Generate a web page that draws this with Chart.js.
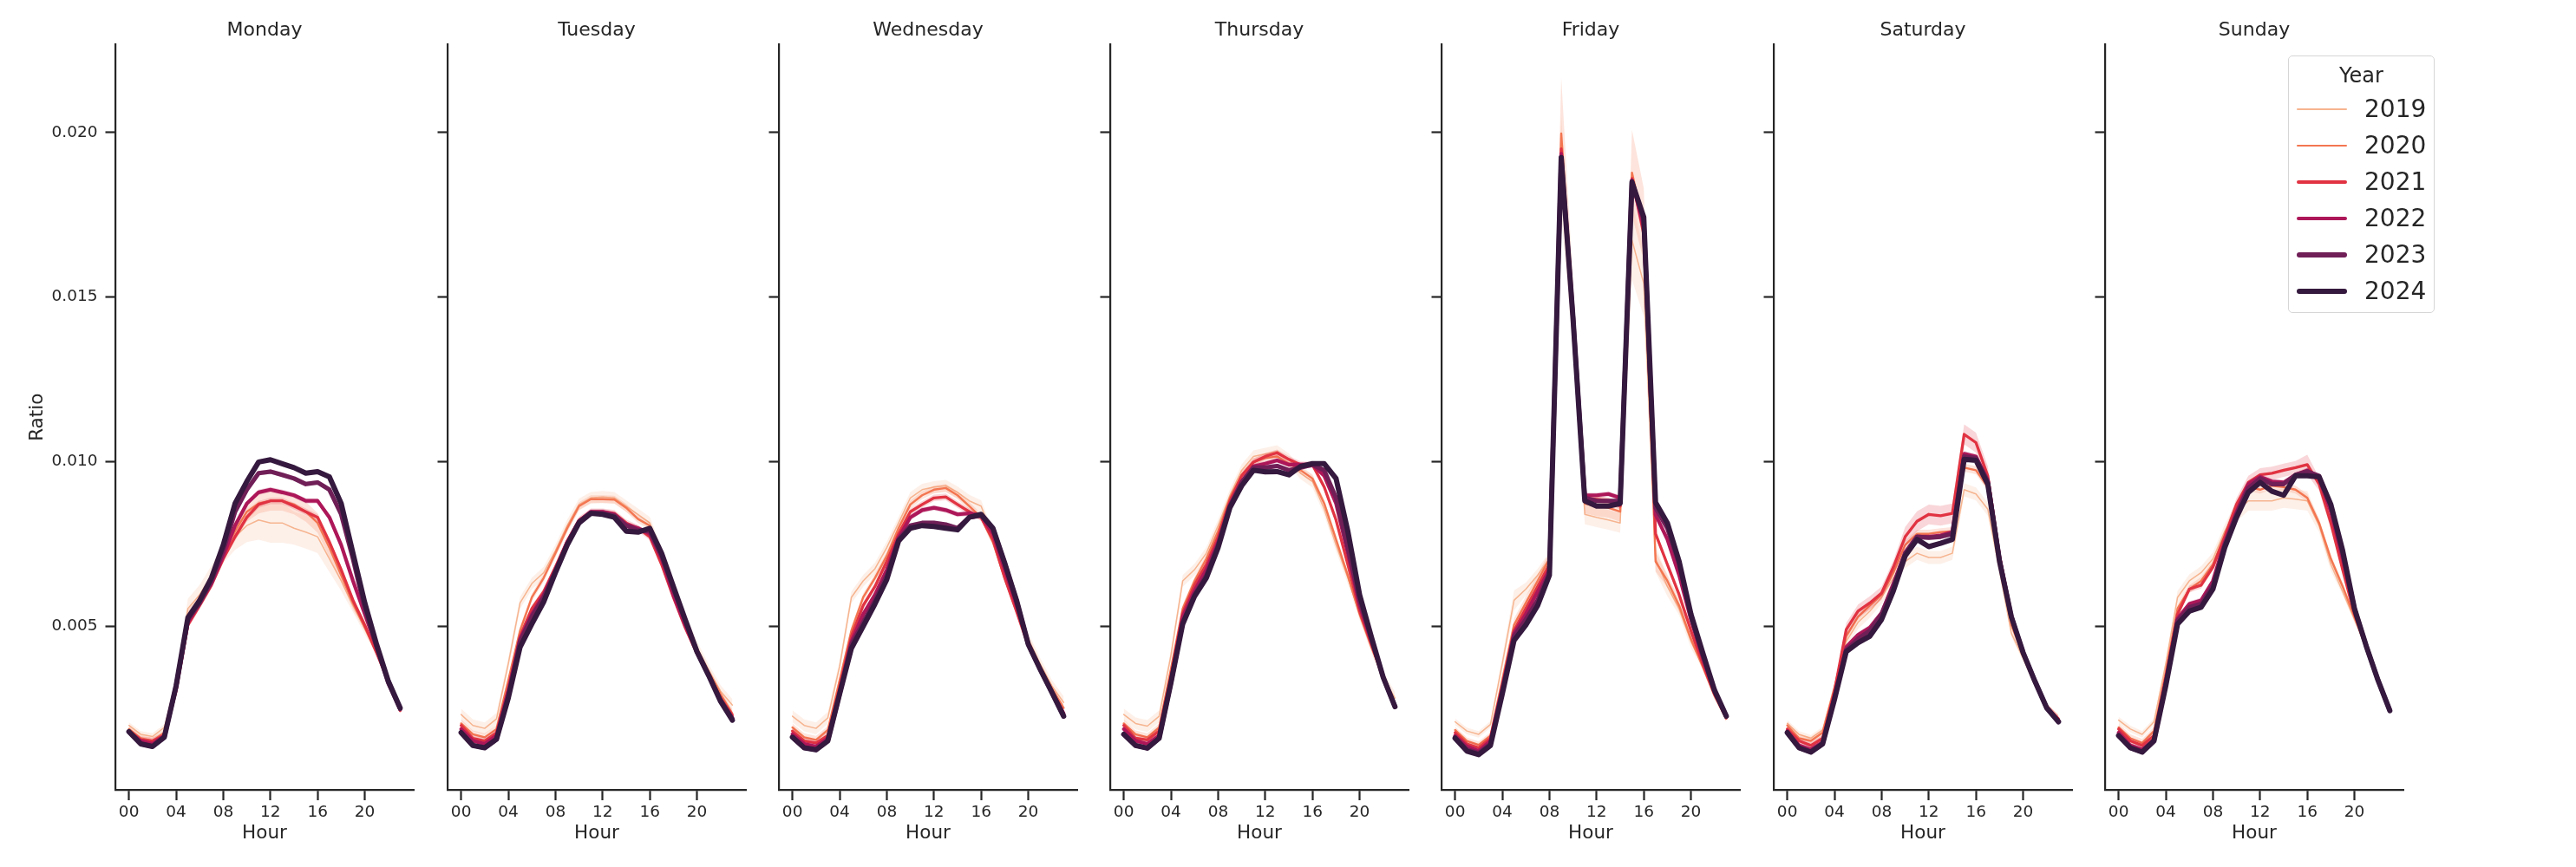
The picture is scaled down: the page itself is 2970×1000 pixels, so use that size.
<!DOCTYPE html>
<html>
<head>
<meta charset="utf-8">
<script src="https://cdn.jsdelivr.net/npm/chart.js@4.4.1/dist/chart.umd.min.js"></script>
<style>
  html, body { margin: 0; padding: 0; background: #fff; }
  body { width: 2970px; height: 1000px; position: relative; overflow: hidden; font-family: "DejaVu Sans", sans-serif; color: #262626; }
  canvas.panel { position: absolute; top: 0; }
  #legend { position: absolute; left: 2638px; top: 64px; width: 169px; height: 297px; box-sizing: border-box;
            border: 1.5px solid #d6d6d6; border-radius: 5px; background: rgba(255,255,255,0.85); z-index: 5; }
  #legend .ttl { position: absolute; left: 0; right: 0; top: 22px; transform: translateY(-50%); text-align: center; font-size: 24px; line-height: 1; }
  #legend .sw { position: absolute; left: 9px; width: 58px; border-radius: 4px; }
  #legend .lbl { position: absolute; left: 87px; font-size: 28px; line-height: 1; transform: translateY(-50%); }
</style>
</head>
<body>
<div id="legend"></div>
<script>
const hours = [0,1,2,3,4,5,6,7,8,9,10,11,12,13,14,15,16,17,18,19,20,21,22,23];
const years = ['2019','2020','2021','2022','2023','2024'];
const days = ['Monday','Tuesday','Wednesday','Thursday','Friday','Saturday','Sunday'];
const yearColors = ['#f6b48f','#f37651','#e13342','#ad1759','#701f57','#35193e'];
const lineWidths = [1.5, 2.4, 3.3, 4.2, 5.1, 6.0];
const xTicks = [0, 4, 8, 12, 16, 20];
const yTicks = [0.005, 0.010, 0.015, 0.020];
const ciDefault = [0.00018, 0.00012, 0.0001, 0.00008, 0.00007, 0.00006];

// Monday
const monday2019 = [0.00199,0.00172,0.00165,0.00193,0.00328,0.00554,0.00596,0.00655,0.00722,0.00772,0.00806,0.00823,0.00814,0.00814,0.00798,0.00786,0.00772,0.00705,0.00638,0.00563,0.00496,0.00420,0.00336,0.00247];
const monday2020 = [0.00188,0.00160,0.00152,0.00177,0.00319,0.00529,0.00579,0.00638,0.00722,0.00789,0.00848,0.00873,0.00881,0.00881,0.00870,0.00848,0.00814,0.00739,0.00655,0.00571,0.00496,0.00420,0.00333,0.00247];
const monday2021 = [0.00182,0.00155,0.00152,0.00168,0.00303,0.00504,0.00563,0.00625,0.00705,0.00772,0.00831,0.00870,0.00881,0.00881,0.00865,0.00848,0.00831,0.00756,0.00672,0.00579,0.00504,0.00420,0.00333,0.00244];
const monday2022 = [0.00180,0.00152,0.00143,0.00168,0.00311,0.00512,0.00571,0.00630,0.00714,0.00806,0.00873,0.00907,0.00915,0.00907,0.00898,0.00881,0.00881,0.00831,0.00747,0.00638,0.00537,0.00437,0.00336,0.00252];
const monday2023 = [0.00180,0.00143,0.00135,0.00163,0.00319,0.00521,0.00571,0.00638,0.00730,0.00848,0.00915,0.00965,0.00970,0.00960,0.00949,0.00932,0.00937,0.00915,0.00840,0.00705,0.00554,0.00437,0.00328,0.00249];
const monday2024 = [0.00180,0.00143,0.00135,0.00163,0.00319,0.00526,0.00579,0.00647,0.00747,0.00873,0.00940,0.00999,0.01006,0.00994,0.00982,0.00965,0.00970,0.00954,0.00873,0.00722,0.00571,0.00445,0.00333,0.00252];

// Tuesday
const tuesday2019 = [0.00232,0.00199,0.00190,0.00219,0.00386,0.00571,0.00630,0.00663,0.00730,0.00806,0.00870,0.00890,0.00893,0.00890,0.00865,0.00840,0.00814,0.00722,0.00613,0.00521,0.00437,0.00366,0.00303,0.00261];
const tuesday2020 = [0.00205,0.00172,0.00163,0.00188,0.00336,0.00487,0.00588,0.00647,0.00722,0.00798,0.00865,0.00886,0.00886,0.00885,0.00860,0.00826,0.00806,0.00714,0.00608,0.00512,0.00428,0.00361,0.00294,0.00235];
const tuesday2021 = [0.00199,0.00160,0.00152,0.00177,0.00311,0.00470,0.00554,0.00605,0.00680,0.00759,0.00823,0.00848,0.00848,0.00843,0.00814,0.00798,0.00772,0.00688,0.00588,0.00496,0.00417,0.00350,0.00282,0.00230];
const tuesday2022 = [0.00188,0.00152,0.00143,0.00168,0.00303,0.00462,0.00537,0.00596,0.00672,0.00756,0.00819,0.00848,0.00848,0.00840,0.00809,0.00798,0.00781,0.00705,0.00596,0.00504,0.00420,0.00353,0.00277,0.00222];
const tuesday2023 = [0.00177,0.00138,0.00131,0.00157,0.00286,0.00454,0.00529,0.00588,0.00668,0.00751,0.00818,0.00845,0.00843,0.00836,0.00806,0.00792,0.00789,0.00714,0.00613,0.00517,0.00423,0.00350,0.00276,0.00219];
const tuesday2024 = [0.00177,0.00138,0.00131,0.00157,0.00282,0.00437,0.00507,0.00574,0.00663,0.00747,0.00814,0.00843,0.00840,0.00831,0.00789,0.00786,0.00798,0.00722,0.00621,0.00521,0.00423,0.00350,0.00272,0.00215];

// Wednesday
const wednesday2019 = [0.00227,0.00199,0.00190,0.00222,0.00378,0.00588,0.00638,0.00675,0.00739,0.00814,0.00890,0.00915,0.00923,0.00927,0.00907,0.00881,0.00865,0.00772,0.00655,0.00554,0.00462,0.00386,0.00319,0.00269];
const wednesday2020 = [0.00193,0.00163,0.00155,0.00185,0.00336,0.00487,0.00588,0.00647,0.00714,0.00798,0.00870,0.00898,0.00915,0.00920,0.00898,0.00865,0.00831,0.00756,0.00647,0.00546,0.00454,0.00378,0.00311,0.00252];
const wednesday2021 = [0.00182,0.00152,0.00146,0.00168,0.00316,0.00470,0.00563,0.00621,0.00697,0.00781,0.00848,0.00870,0.00890,0.00893,0.00870,0.00848,0.00831,0.00764,0.00647,0.00546,0.00440,0.00366,0.00299,0.00235];
const wednesday2022 = [0.00172,0.00143,0.00135,0.00160,0.00303,0.00454,0.00537,0.00596,0.00672,0.00769,0.00831,0.00853,0.00860,0.00853,0.00840,0.00843,0.00836,0.00781,0.00672,0.00563,0.00445,0.00370,0.00303,0.00235];
const wednesday2023 = [0.00163,0.00131,0.00125,0.00152,0.00294,0.00445,0.00512,0.00579,0.00655,0.00764,0.00806,0.00814,0.00814,0.00809,0.00798,0.00831,0.00836,0.00798,0.00692,0.00579,0.00445,0.00370,0.00299,0.00227];
const wednesday2024 = [0.00163,0.00131,0.00125,0.00152,0.00294,0.00433,0.00500,0.00568,0.00642,0.00759,0.00798,0.00806,0.00803,0.00798,0.00793,0.00831,0.00840,0.00798,0.00692,0.00579,0.00445,0.00370,0.00299,0.00227];

// Thursday
const thursday2019 = [0.00232,0.00205,0.00197,0.00227,0.00412,0.00638,0.00672,0.00722,0.00806,0.00898,0.00974,0.01016,0.01024,0.01032,0.01007,0.00965,0.00940,0.00856,0.00747,0.00647,0.00537,0.00437,0.00345,0.00282];
const thursday2020 = [0.00205,0.00172,0.00163,0.00193,0.00370,0.00554,0.00638,0.00705,0.00789,0.00890,0.00960,0.00999,0.01011,0.01016,0.00994,0.00974,0.00949,0.00873,0.00764,0.00655,0.00537,0.00437,0.00345,0.00261];
const thursday2021 = [0.00199,0.00160,0.00155,0.00182,0.00350,0.00541,0.00625,0.00688,0.00772,0.00881,0.00957,0.00999,0.01016,0.01027,0.01007,0.00991,0.00991,0.00923,0.00823,0.00688,0.00546,0.00445,0.00345,0.00256];
const thursday2022 = [0.00188,0.00152,0.00143,0.00168,0.00336,0.00529,0.00608,0.00672,0.00756,0.00870,0.00940,0.00986,0.00994,0.01004,0.00991,0.00991,0.00991,0.00957,0.00873,0.00722,0.00563,0.00454,0.00345,0.00256];
const thursday2023 = [0.00172,0.00138,0.00130,0.00160,0.00328,0.00512,0.00596,0.00655,0.00747,0.00865,0.00937,0.00982,0.00982,0.00987,0.00974,0.00982,0.00991,0.00974,0.00890,0.00739,0.00579,0.00462,0.00345,0.00256];
const thursday2024 = [0.00172,0.00138,0.00130,0.00160,0.00328,0.00507,0.00591,0.00647,0.00739,0.00860,0.00927,0.00974,0.00969,0.00970,0.00960,0.00986,0.00994,0.00994,0.00949,0.00789,0.00596,0.00467,0.00345,0.00256];

// Friday
const friday2019 = [0.00210,0.00182,0.00172,0.00202,0.00386,0.00579,0.00613,0.00655,0.00705,0.01900,0.01420,0.00840,0.00831,0.00823,0.00814,0.01673,0.01541,0.00705,0.00621,0.00554,0.00454,0.00378,0.00289,0.00220];
const friday2020 = [0.00185,0.00152,0.00140,0.00168,0.00336,0.00504,0.00571,0.00638,0.00705,0.01997,0.01470,0.00873,0.00865,0.00860,0.00848,0.01878,0.01720,0.00697,0.00638,0.00563,0.00462,0.00378,0.00289,0.00220];
const friday2021 = [0.00177,0.00143,0.00131,0.00160,0.00319,0.00487,0.00554,0.00621,0.00688,0.01950,0.01455,0.00890,0.00886,0.00881,0.00865,0.01860,0.01690,0.00781,0.00688,0.00596,0.00487,0.00386,0.00294,0.00222];
const friday2022 = [0.00168,0.00135,0.00121,0.00152,0.00311,0.00479,0.00537,0.00605,0.00672,0.01935,0.01445,0.00898,0.00898,0.00902,0.00890,0.01855,0.01712,0.00839,0.00764,0.00655,0.00521,0.00403,0.00299,0.00225];
const friday2023 = [0.00163,0.00126,0.00115,0.00143,0.00303,0.00470,0.00521,0.00579,0.00663,0.01925,0.01440,0.00890,0.00881,0.00881,0.00881,0.01852,0.01732,0.00860,0.00798,0.00688,0.00529,0.00412,0.00303,0.00227];
const friday2024 = [0.00160,0.00121,0.00110,0.00138,0.00294,0.00457,0.00504,0.00563,0.00655,0.01924,0.01435,0.00881,0.00865,0.00865,0.00873,0.01849,0.01743,0.00876,0.00814,0.00697,0.00537,0.00420,0.00306,0.00227];

// Saturday
const saturday2019 = [0.00205,0.00172,0.00160,0.00185,0.00319,0.00454,0.00512,0.00546,0.00588,0.00647,0.00697,0.00722,0.00709,0.00709,0.00722,0.00915,0.00902,0.00856,0.00672,0.00479,0.00403,0.00324,0.00256,0.00222];
const saturday2020 = [0.00199,0.00160,0.00152,0.00177,0.00311,0.00470,0.00529,0.00563,0.00596,0.00663,0.00747,0.00781,0.00781,0.00786,0.00789,0.00982,0.00974,0.00923,0.00697,0.00504,0.00412,0.00328,0.00252,0.00219];
const saturday2021 = [0.00188,0.00152,0.00138,0.00160,0.00303,0.00490,0.00546,0.00571,0.00601,0.00680,0.00772,0.00819,0.00840,0.00836,0.00843,0.01083,0.01058,0.00957,0.00714,0.00537,0.00420,0.00333,0.00256,0.00219];
const saturday2022 = [0.00182,0.00138,0.00126,0.00148,0.00289,0.00437,0.00474,0.00496,0.00541,0.00630,0.00725,0.00772,0.00772,0.00776,0.00786,0.01024,0.01016,0.00944,0.00705,0.00529,0.00420,0.00333,0.00252,0.00214];
const saturday2023 = [0.00177,0.00131,0.00118,0.00143,0.00282,0.00428,0.00462,0.00487,0.00537,0.00621,0.00722,0.00772,0.00769,0.00772,0.00781,0.01016,0.01011,0.00940,0.00702,0.00529,0.00420,0.00333,0.00252,0.00210];
const saturday2024 = [0.00177,0.00131,0.00118,0.00143,0.00277,0.00423,0.00450,0.00470,0.00521,0.00608,0.00714,0.00764,0.00742,0.00752,0.00764,0.01007,0.01004,0.00932,0.00697,0.00529,0.00420,0.00333,0.00252,0.00210];

// Sunday
const sunday2019 = [0.00215,0.00188,0.00172,0.00210,0.00386,0.00588,0.00638,0.00663,0.00705,0.00789,0.00848,0.00881,0.00881,0.00881,0.00890,0.00886,0.00881,0.00806,0.00688,0.00605,0.00521,0.00437,0.00336,0.00256];
const sunday2020 = [0.00193,0.00160,0.00146,0.00182,0.00361,0.00554,0.00613,0.00638,0.00688,0.00776,0.00870,0.00923,0.00915,0.00927,0.00923,0.00915,0.00890,0.00814,0.00705,0.00621,0.00529,0.00437,0.00336,0.00249];
const sunday2021 = [0.00188,0.00152,0.00138,0.00168,0.00345,0.00537,0.00613,0.00625,0.00680,0.00772,0.00870,0.00937,0.00960,0.00965,0.00974,0.00982,0.00991,0.00932,0.00814,0.00672,0.00537,0.00437,0.00333,0.00249];
const sunday2022 = [0.00177,0.00138,0.00126,0.00155,0.00333,0.00524,0.00568,0.00579,0.00638,0.00756,0.00848,0.00932,0.00954,0.00940,0.00937,0.00960,0.00974,0.00949,0.00848,0.00705,0.00546,0.00440,0.00336,0.00247];
const sunday2023 = [0.00168,0.00131,0.00118,0.00152,0.00323,0.00517,0.00558,0.00568,0.00625,0.00747,0.00840,0.00920,0.00949,0.00932,0.00932,0.00960,0.00970,0.00957,0.00865,0.00722,0.00554,0.00440,0.00336,0.00244];
const sunday2024 = [0.00168,0.00131,0.00118,0.00152,0.00319,0.00507,0.00546,0.00558,0.00613,0.00739,0.00831,0.00907,0.00937,0.00910,0.00898,0.00957,0.00957,0.00954,0.00870,0.00730,0.00554,0.00440,0.00336,0.00244];

// wider confidence bands, read where they show
const ciMonday2019 = [0.0001,0.0001,0.0001,0.0001,0.0002,0.0003,0.0003,0.0003,0.0003,0.0004,0.0005,0.0006,0.0006,0.0006,0.0005,0.0005,0.0005,0.0004,0.0003,0.0002,0.0002,0.0001,0.0001,0.0001];
const ciMonday2020 = [0.0001,0.0001,0.0001,0.0001,0.0002,0.0002,0.0002,0.0002,0.0002,0.0003,0.0003,0.0003,0.0003,0.0003,0.0003,0.0003,0.0003,0.0003,0.0002,0.0002,0.0001,0.0001,0.0001,0.0001];
const ciFriday2019 = [0.0001,0.0001,0.0001,0.0001,0.0002,0.0003,0.0002,0.0002,0.0002,0.0015,0.0008,0.0003,0.0003,0.0003,0.0003,0.0012,0.0010,0.0004,0.0003,0.0002,0.0002,0.0001,0.0001,0.0001];
const ciFriday2020 = [0.0001,0.0001,0.0001,0.0001,0.0002,0.0002,0.0002,0.0002,0.0002,0.0017,0.0008,0.0003,0.0003,0.0003,0.0003,0.0013,0.0011,0.0003,0.0002,0.0002,0.0001,0.0001,0.0001,0.0001];
const ciSaturday2019 = [0.0001,0.0001,0.0001,0.0001,0.0001,0.0002,0.0002,0.0002,0.0002,0.0002,0.0002,0.0002,0.0002,0.0002,0.0002,0.0002,0.0002,0.0002,0.0002,0.0001,0.0001,0.0001,0.0001,0.0001];
const ciSaturday2021 = [0.0001,0.0001,0.0001,0.0001,0.0001,0.0002,0.0002,0.0002,0.0002,0.0002,0.0003,0.0003,0.0003,0.0003,0.0003,0.0003,0.0003,0.0003,0.0002,0.0001,0.0001,0.0001,0.0001,0.0001];
const ciSunday2019 = [0.0001,0.0001,0.0001,0.0001,0.0001,0.0002,0.0002,0.0002,0.0002,0.0002,0.0003,0.0003,0.0003,0.0003,0.0003,0.0003,0.0003,0.0002,0.0002,0.0001,0.0001,0.0001,0.0001,0.0001];
const ciSunday2021 = [0.0001,0.0001,0.0001,0.0001,0.0001,0.0001,0.0001,0.0001,0.0001,0.0002,0.0002,0.0002,0.0002,0.0002,0.0002,0.0002,0.0003,0.0002,0.0002,0.0001,0.0001,0.0001,0.0001,0.0001];

const dayData = [
  [monday2019, monday2020, monday2021, monday2022, monday2023, monday2024],
  [tuesday2019, tuesday2020, tuesday2021, tuesday2022, tuesday2023, tuesday2024],
  [wednesday2019, wednesday2020, wednesday2021, wednesday2022, wednesday2023, wednesday2024],
  [thursday2019, thursday2020, thursday2021, thursday2022, thursday2023, thursday2024],
  [friday2019, friday2020, friday2021, friday2022, friday2023, friday2024],
  [saturday2019, saturday2020, saturday2021, saturday2022, saturday2023, saturday2024],
  [sunday2019, sunday2020, sunday2021, sunday2022, sunday2023, sunday2024]
];
const ciOverride = {
  'Monday-2019': ciMonday2019, 'Monday-2020': ciMonday2020,
  'Friday-2019': ciFriday2019, 'Friday-2020': ciFriday2020,
  'Saturday-2019': ciSaturday2019, 'Saturday-2021': ciSaturday2021,
  'Sunday-2019': ciSunday2019, 'Sunday-2021': ciSunday2021
};

const INK = '#262626';
const panelLeft = [133, 516, 898, 1280, 1662, 2045, 2427];
const plotW = 344;

function rgba(hex, a) {
  const n = parseInt(hex.slice(1), 16);
  return `rgba(${n >> 16},${(n >> 8) & 255},${n & 255},${a})`;
}

function buildDatasets(day, d) {
  const out = [];
  years.forEach((yr, i) => {
    const vals = dayData[d][i];
    const ci = ciOverride[day + '-' + yr];
    const half = k => ci ? ci[k] : ciDefault[i];
    out.push({
      data: hours.map((h, k) => ({ x: h, y: vals[k] + half(k) })),
      borderColor: 'rgba(0,0,0,0)', borderWidth: 1, pointRadius: 0, fill: false,
      order: 1000 - 3 * i
    });
    out.push({
      data: hours.map((h, k) => ({ x: h, y: vals[k] - half(k) })),
      borderColor: 'rgba(0,0,0,0)', borderWidth: 1, pointRadius: 0,
      backgroundColor: rgba(yearColors[i], 0.2), fill: '-1',
      order: 999 - 3 * i
    });
    out.push({
      label: yr,
      data: hours.map((h, k) => ({ x: h, y: vals[k] })),
      borderColor: yearColors[i], borderWidth: lineWidths[i],
      borderJoinStyle: 'round', borderCapStyle: 'round',
      pointRadius: 0, fill: false, tension: 0,
      order: 998 - 3 * i
    });
  });
  return out;
}

days.forEach((day, d) => {
  const cv = document.createElement('canvas');
  cv.className = 'panel';
  cv.width = 133 + plotW + 20;
  cv.height = 1000;
  cv.style.left = (panelLeft[d] - 133) + 'px';
  document.body.appendChild(cv);

  new Chart(cv, {
    type: 'line',
    data: { datasets: buildDatasets(day, d) },
    options: {
      responsive: false,
      animation: false,
      devicePixelRatio: 1,
      events: [],
      layout: { padding: { left: 0, right: 20, top: 0, bottom: 25.4 }, autoPadding: false },
      plugins: {
        legend: { display: false },
        tooltip: { enabled: false },
        title: {
          display: true, text: day, color: INK, fullSize: false,
          font: { family: 'DejaVu Sans', size: 22, weight: 'normal' },
          padding: { top: 21.8, bottom: 2.8 }
        }
      },
      scales: {
        x: {
          type: 'linear', min: -1.15, max: 24.15,
          afterBuildTicks: s => { s.ticks = xTicks.map(v => ({ value: v })); },
          afterFit: s => { s.height = 63.1; },
          ticks: {
            autoSkip: false, maxRotation: 0, padding: 2.6, color: INK,
            font: { family: 'DejaVu Sans', size: 18.5 },
            callback: v => String(v).padStart(2, '0')
          },
          grid: { display: true, drawOnChartArea: false, drawTicks: true, tickLength: 11.5, tickWidth: 2.2, tickColor: INK },
          border: { display: true, color: INK, width: 2.2 },
          title: { display: true, text: 'Hour', color: INK, font: { family: 'DejaVu Sans', size: 21.5 }, padding: { top: 0, bottom: 0 } }
        },
        y: {
          type: 'linear', min: 0.00002, max: 0.02268,
          afterBuildTicks: s => { s.ticks = yTicks.map(v => ({ value: v })); },
          afterFit: s => { s.width = 133; },
          ticks: {
            autoSkip: false, padding: 9, color: INK,
            font: { family: 'DejaVu Sans', size: 18.5 },
            callback: v => d === 0 ? v.toFixed(3) : ''
          },
          grid: { display: true, drawOnChartArea: false, drawTicks: true, tickLength: 11.5, tickWidth: 2.2, tickColor: INK },
          border: { display: true, color: INK, width: 2.2 },
          title: { display: d === 0, text: 'Ratio', color: INK, font: { family: 'DejaVu Sans', size: 21.5 }, padding: { top: 31, bottom: 0 } }
        }
      }
    }
  });
});

// legend box in the Sunday panel
const legend = document.getElementById('legend');
const ttl = document.createElement('div');
ttl.className = 'ttl';
ttl.textContent = 'Year';
legend.appendChild(ttl);
years.forEach((yr, i) => {
  const cy = 61 + 42 * i;
  const sw = document.createElement('div');
  sw.className = 'sw';
  sw.style.top = (cy - lineWidths[i] / 2) + 'px';
  sw.style.height = lineWidths[i] + 'px';
  sw.style.background = yearColors[i];
  legend.appendChild(sw);
  const lb = document.createElement('div');
  lb.className = 'lbl';
  lb.style.top = cy + 'px';
  lb.textContent = yr;
  legend.appendChild(lb);
});
</script>
</body>
</html>
